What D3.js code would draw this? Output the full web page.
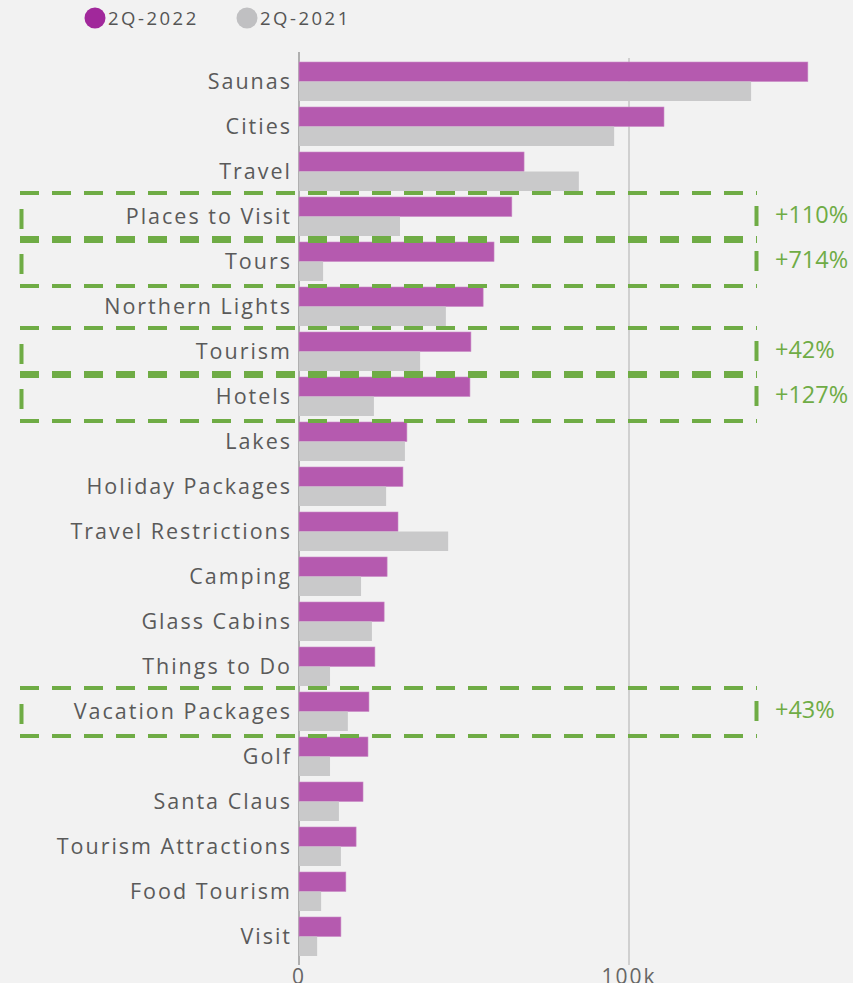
<!DOCTYPE html>
<html>
<head>
<meta charset="utf-8">
<script src="https://cdn.jsdelivr.net/npm/d3@7"></script>
<style>
  body { margin: 0; background: #f2f2f2; }
  svg { display: block; font-family: "Open Sans", sans-serif; }
</style>
</head>
<body>
<div id="container"></div>
<script>
/* DATA */
const categories = ["Saunas", "Cities", "Travel", "Places to Visit", "Tours", "Northern Lights",
  "Tourism", "Hotels", "Lakes", "Holiday Packages", "Travel Restrictions", "Camping",
  "Glass Cabins", "Things to Do", "Vacation Packages", "Golf", "Santa Claus",
  "Tourism Attractions", "Food Tourism", "Visit"];
const values2022 = [154.2, 110.6, 68.2, 64.5, 59.1, 55.8, 52.1, 51.8, 32.7, 31.5, 30.0, 26.7,
  25.8, 23.0, 21.2, 20.9, 19.4, 17.3, 14.2, 12.7];
const values2021 = [137.0, 95.5, 84.8, 30.6, 7.3, 44.5, 36.7, 22.7, 32.1, 26.4, 45.2, 18.8,
  22.1, 9.4, 14.8, 9.4, 12.1, 12.7, 6.7, 5.5];
const highlights = ["Places to Visit", "Tours", "Tourism", "Hotels", "Vacation Packages"];
const highlightLabels = ["+110%", "+714%", "+42%", "+127%", "+43%"];
const seriesNames = ["2Q-2022", "2Q-2021"];
const tickValues = [0, 100];

/* CONSTANTS */
const width = 853;
const height = 983;
const x0 = 299;
const green = "#6fac45";

const svg = d3.select("#container").append("svg")
  .attr("width", width)
  .attr("height", height);

const xScale = d3.scaleLinear()
  .domain([0, 100])
  .range([x0, 629]);

const yScale = d3.scaleBand()
  .domain(categories)
  .range([55, 955]);

const barH = 19.5;

/* GRID + AXIS */
svg.append("line")
  .attr("x1", xScale(100)).attr("x2", xScale(100))
  .attr("y1", 58).attr("y2", 965)
  .attr("stroke", "#c4c4c4").attr("stroke-width", 1.5);

svg.append("line")
  .attr("x1", x0).attr("x2", x0)
  .attr("y1", 52).attr("y2", 965)
  .attr("stroke", "#b0b0b0").attr("stroke-width", 2);

svg.selectAll("text.tick")
  .data(tickValues)
  .join("text")
  .attr("class", "tick")
  .attr("x", d => xScale(d))
  .attr("y", 984)
  .attr("text-anchor", "middle")
  .attr("fill", "#666")
  .style("font-size", "21px")
  .style("letter-spacing", "2px")
  .text(d => d === 0 ? "0" : d + "k");

/* BARS */
svg.selectAll("rect.b2022")
  .data(categories)
  .join("rect")
  .attr("class", "b2022")
  .attr("x", x0)
  .attr("y", d => yScale(d) + 7)
  .attr("width", (d, i) => xScale(values2022[i]) - x0)
  .attr("height", barH)
  .attr("fill", "#b55aaf")
  .attr("stroke", "#c98ac5")
  .attr("stroke-width", 0.6);

svg.selectAll("rect.b2021")
  .data(categories)
  .join("rect")
  .attr("class", "b2021")
  .attr("x", x0)
  .attr("y", d => yScale(d) + 7 + barH)
  .attr("width", (d, i) => xScale(values2021[i]) - x0)
  .attr("height", barH)
  .attr("fill", "#c9c9ca");

/* CATEGORY LABELS */
svg.selectAll("text.cat")
  .data(categories)
  .join("text")
  .attr("class", "cat")
  .attr("x", 292)
  .attr("y", d => yScale(d) + 33.5)
  .attr("text-anchor", "end")
  .attr("fill", "#5a5a5a")
  .style("font-size", "21.5px")
  .style("letter-spacing", "2px")
  .text(d => d);

/* HIGHLIGHT BOXES */
const hl = svg.selectAll("g.hl")
  .data(highlights)
  .join("g")
  .attr("class", "hl")
  .attr("transform", d => `translate(0, ${yScale(d) + 3})`);

// top and bottom dashed lines
hl.selectAll("line.h")
  .data([0, 48])
  .join("line")
  .attr("class", "h")
  .attr("x1", 20).attr("x2", 757)
  .attr("y1", d => d).attr("y2", d => d)
  .attr("stroke", green)
  .attr("stroke-width", 4)
  .attr("stroke-dasharray", "19,13");

// single dash on each side
hl.selectAll("line.v")
  .data([[21.5, 16, 36], [756.5, 13, 33]])
  .join("line")
  .attr("class", "v")
  .attr("x1", d => d[0]).attr("x2", d => d[0])
  .attr("y1", d => d[1]).attr("y2", d => d[2])
  .attr("stroke", green)
  .attr("stroke-width", 4);

hl.append("text")
  .attr("x", 775)
  .attr("y", 30)
  .attr("fill", green)
  .style("font-size", "23.5px")
  .text((d, i) => highlightLabels[i]);

/* LEGEND */
const legendX = [95, 247];
const legendColors = ["#a1289b", "#c0c0c2"];
const legend = svg.selectAll("g.legend")
  .data(seriesNames)
  .join("g")
  .attr("class", "legend")
  .attr("transform", (d, i) => `translate(${legendX[i]}, 18)`);

legend.append("circle")
  .attr("r", 10.5)
  .attr("fill", (d, i) => legendColors[i]);

legend.append("text")
  .attr("x", 13)
  .attr("dy", "0.36em")
  .attr("fill", "#555")
  .style("font-size", "18.5px")
  .style("letter-spacing", "2.5px")
  .text(d => d);
</script>
</body>
</html>
